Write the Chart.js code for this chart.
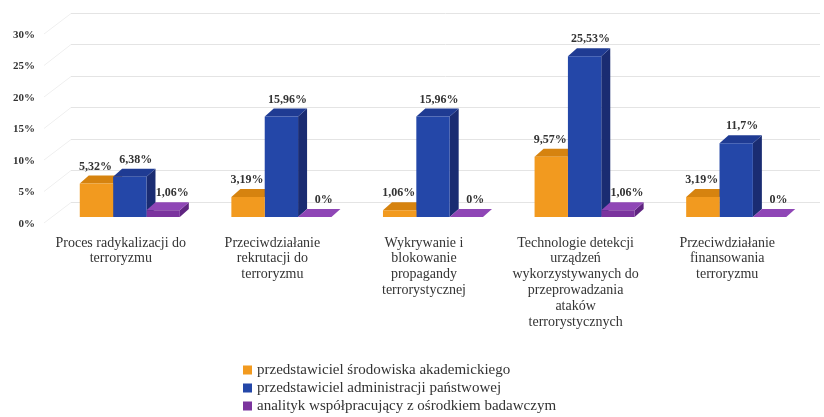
<!DOCTYPE html>
<html><head><meta charset="utf-8">
<script src="https://cdn.jsdelivr.net/npm/chart.js@4/dist/chart.umd.min.js"></script>
<style>html,body{margin:0;padding:0;background:#fff;}#wrap{width:824px;height:417px;}</style>
</head><body><div id="wrap"><canvas id="c" width="824" height="417"></canvas></div>
<script>
const categories = [
  ["Proces radykalizacji do", "terroryzmu"],
  ["Przeciwdziałanie", "rekrutacji do", "terroryzmu"],
  ["Wykrywanie i", "blokowanie", "propagandy", "terrorystycznej"],
  ["Technologie detekcji", "urządzeń", "wykorzystywanych do", "przeprowadzania", "ataków", "terrorystycznych"],
  ["Przeciwdziałanie", "finansowania", "terroryzmu"]
];
const seriesNames = [
  "przedstawiciel środowiska akademickiego",
  "przedstawiciel administracji państwowej",
  "analityk współpracujący z ośrodkiem badawczym"
];
const academic = [5.32, 3.19, 1.06, 9.57, 3.19];
const government = [6.38, 15.96, 15.96, 25.53, 11.7];
const analyst = [1.06, 0, 0, 1.06, 0];
const yTicks = [0, 5, 10, 15, 20, 25, 30];

const frontColors = ['#F29A1F', '#2447A8', '#7B349E'];
const topColors = ['#D6830F', '#1F3B93', '#8F46B6'];
const sideColors = ['#C47610', '#1A2C72', '#5F2480'];
const labelShift = [-1, 6, 9];
const DX = 9, DY = -8;
const SERIF = '"Liberation Serif", "DejaVu Serif", serif';

function fmt(v) { return String(v).replace('.', ',') + '%'; }

const threeD = {
  id: 'threeD',
  beforeDatasetsDraw(chart) {
    const ctx = chart.ctx, ys = chart.scales.y, ca = chart.chartArea;
    ctx.save();
    yTicks.forEach(v => {
      const yf = ys.getPixelForValue(v);
      const yb = Math.round(yf - 15.5) + 0.5;
      ctx.strokeStyle = '#e4e4e4';
      ctx.lineWidth = 1;
      ctx.beginPath();
      ctx.moveTo(71, yb);
      ctx.lineTo(ca.right + 8, yb);
      ctx.stroke();
      ctx.strokeStyle = '#efefef';
      ctx.beginPath();
      ctx.moveTo(44, yf + 6);
      ctx.lineTo(71, yb);
      ctx.stroke();
    });
    const metas = chart.data.datasets.map((d, i) => chart.getDatasetMeta(i));
    for (let c = 0; c < chart.data.labels.length; c++) {
      metas.forEach((meta, di) => {
        const b = meta.data[c];
        const x0 = b.x - b.width / 2, x1 = b.x + b.width / 2;
        const top = b.y, base = b.base;
        ctx.fillStyle = sideColors[di];
        ctx.beginPath();
        ctx.moveTo(x1, top); ctx.lineTo(x1 + DX, top + DY);
        ctx.lineTo(x1 + DX, base + DY); ctx.lineTo(x1, base);
        ctx.closePath(); ctx.fill();
        ctx.fillStyle = topColors[di];
        ctx.beginPath();
        ctx.moveTo(x0, top); ctx.lineTo(x0 + DX, top + DY);
        ctx.lineTo(x1 + DX, top + DY); ctx.lineTo(x1, top);
        ctx.closePath(); ctx.fill();
      });
    }
    ctx.restore();
  },
  afterDatasetsDraw(chart) {
    const ctx = chart.ctx;
    ctx.save();
    ctx.font = 'bold 12px ' + SERIF;
    ctx.fillStyle = '#333';
    ctx.textAlign = 'center';
    ctx.textBaseline = 'middle';
    chart.data.datasets.forEach((ds, di) => {
      const meta = chart.getDatasetMeta(di);
      meta.data.forEach((b, i) => {
        ctx.fillText(fmt(ds.data[i]), b.x + labelShift[di], b.y + DY - 9);
      });
    });
    ctx.restore();
  },
  afterDraw(chart) {
    const ctx = chart.ctx;
    ctx.save();
    ctx.font = '15px ' + SERIF;
    ctx.textBaseline = 'middle';
    ctx.textAlign = 'left';
    chart.data.datasets.forEach((ds, i) => {
      const y = 370 + i * 18;
      ctx.fillStyle = ds.backgroundColor;
      ctx.fillRect(243, y - 4.5, 9, 9);
      ctx.fillStyle = '#333';
      ctx.fillText(ds.label, 257, y);
    });
    ctx.restore();
  }
};

new Chart(document.getElementById('c'), {
  type: 'bar',
  data: {
    labels: categories,
    datasets: [
      { label: seriesNames[0], data: academic, backgroundColor: frontColors[0] },
      { label: seriesNames[1], data: government, backgroundColor: frontColors[1] },
      { label: seriesNames[2], data: analyst, backgroundColor: frontColors[2] }
    ]
  },
  options: {
    responsive: false,
    animation: false,
    layout: { padding: { left: 0, right: 12, top: 28, bottom: 0 } },
    datasets: { bar: { categoryPercentage: 0.66, barPercentage: 1.0 } },
    plugins: { legend: { display: false }, tooltip: { enabled: false } },
    scales: {
      x: {
        grid: { display: false, drawTicks: false },
        border: { display: false },
        ticks: { padding: 18, labelOffset: -9, maxRotation: 0, autoSkip: false, color: '#333',
                 font: { family: SERIF, size: 14, lineHeight: 1.13 } },
        afterFit(s) { s.height = 200; }
      },
      y: {
        min: 0, max: 30,
        grid: { display: false, drawTicks: false },
        border: { display: false },
        afterBuildTicks(s) { s.ticks = yTicks.map(v => ({ value: v })); },
        ticks: { padding: 19, labelOffset: 7, color: '#333', callback: v => v + '%',
                 font: { family: SERIF, size: 11, weight: 'bold' } },
        afterFit(s) { s.width = 54; }
      }
    }
  },
  plugins: [threeD]
});
</script></body></html>
